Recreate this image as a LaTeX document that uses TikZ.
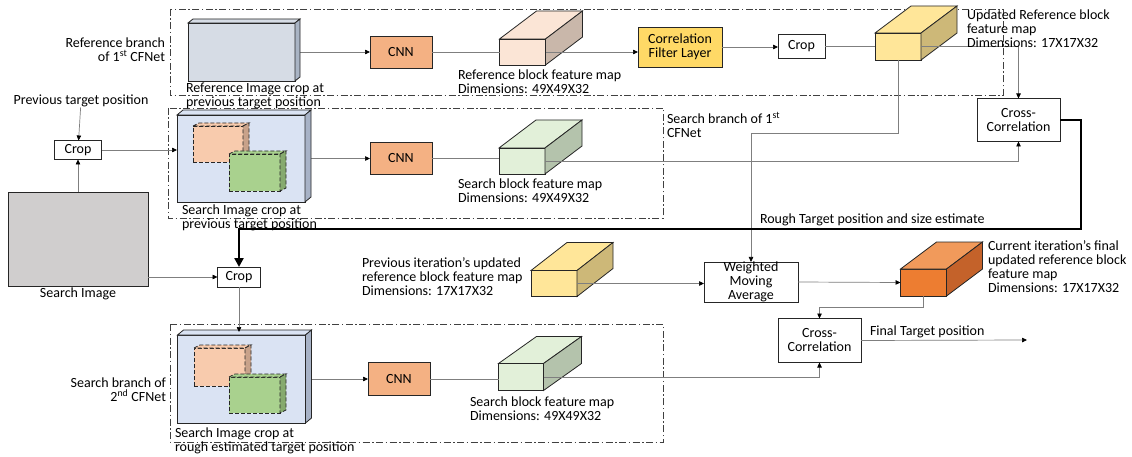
\documentclass[tikz,border=0pt]{standalone}
\usepackage{fontspec}
\setmainfont{Carlito}
\usetikzlibrary{arrows.meta,calc}

\definecolor{edgec}{HTML}{262626}
\definecolor{linec}{HTML}{7F7F7F}
\definecolor{regc}{HTML}{404040}
\definecolor{refimgc}{HTML}{D6DCE5}
\definecolor{refimgs}{HTML}{A9B4C4}
\definecolor{srcimgc}{HTML}{DAE3F3}
\definecolor{srcimgs}{HTML}{A7B2C6}
\definecolor{orgc}{HTML}{F8CBAD}
\definecolor{orgs}{HTML}{C8A28A}
\definecolor{grnc}{HTML}{A9D18E}
\definecolor{grns}{HTML}{86AA6E}
\definecolor{cnnc}{HTML}{F4B183}
\definecolor{rfmc}{HTML}{FBE5D6}
\definecolor{rfms}{HTML}{C9B7AA}
\definecolor{sfmc}{HTML}{E2F0D9}
\definecolor{sfms}{HTML}{B4C3AC}
\definecolor{ylwc}{HTML}{FFE699}
\definecolor{ylws}{HTML}{CDB878}
\definecolor{cflc}{HTML}{FFD966}
\definecolor{cfmc}{HTML}{ED7D31}
\definecolor{cfmt}{HTML}{F19A5B}
\definecolor{cfms}{HTML}{C4622A}
\definecolor{simgc}{HTML}{D0CECE}

\tikzset{
  edge/.style={draw=edgec, line width=0.8pt},
  box/.style={edge, rectangle, inner sep=0pt, outer sep=0pt, align=center},
  conn/.style={draw=linec, line width=0.7pt},
  arr/.style={conn, -{Triangle[length=5pt,width=4.5pt,color=black]}},
  lbl/.style={inner sep=0pt, outer sep=0pt, align=left, anchor=north west},
  region/.style={draw=regc, line width=0.9pt, dash pattern=on 7pt off 2.5pt on 1.5pt off 2.5pt},
  inner/.style={box, dash pattern=on 4pt off 2pt}
}

% top and right faces of a block drawn from its front node
\newcommand{\faces}[6][]{%
  \filldraw[edge,#1,fill=#5] (#2.north west) -- ++(#3,-#4) -- ($(#2.north east)+(#3,-#4)$) -- (#2.north east) -- cycle;
  \filldraw[edge,#1,fill=#6] (#2.north east) -- ++(#3,-#4) -- ($(#2.south east)+(#3,-#4)$) -- (#2.south east) -- cycle;}

\begin{document}
\begin{tikzpicture}[x=1pt, y=-1pt, font=\fontsize{14}{14}\selectfont]
  \useasboundingbox[fill=white] (0,0) rectangle (1132,457);

  \draw[region] (170,9) rectangle (1003,95);
  \draw[region] (168,108) rectangle (663,218);
  \draw[region] (170,324) rectangle (663,442);

  \node[box, fill=simgc, minimum width=140, minimum height=94] (simg) at (78,239) {};
  \node[box, minimum width=47, minimum height=19] (crop1) at (78,150) {Crop};
  \node[box, minimum width=43, minimum height=20] (crop2) at (239,277) {Crop};

  \node[box, fill=refimgc, minimum width=107, minimum height=58] (refimg) at (241.5,52) {};
  \node[box, fill=srcimgc, minimum width=128, minimum height=87] (srcimg1) at (241,158.5) {};
  \node[box, fill=srcimgc, minimum width=128, minimum height=88] (srcimg2) at (241.5,379) {};

  \node[box, fill=cnnc, minimum width=62, minimum height=32] (cnnr) at (401,52) {CNN};
  \node[box, fill=cnnc, minimum width=62, minimum height=32] (cnns1) at (401,158) {CNN};
  \node[box, fill=cnnc, minimum width=62, minimum height=33] (cnns2) at (399,379) {CNN};

  \node[box, fill=rfmc, minimum width=46, minimum height=26] (rfm) at (522.5,52) {};
  \node[box, fill=sfmc, minimum width=46, minimum height=26] (sfm1) at (522,161) {};
  \node[box, fill=sfmc, minimum width=45, minimum height=27] (sfm2) at (521,377) {};

  \node[box, fill=cflc, minimum width=84, minimum height=40] (cfl) at (680,47) {Correlation\\Filter Layer};
  \node[box, minimum width=47, minimum height=24] (cropr) at (801.5,46) {Crop};
  \node[box, fill=ylwc, minimum width=46, minimum height=27] (urfm) at (898,46.5) {};
  \node[box, minimum width=83, minimum height=43] (cc1) at (1018.5,120) {Cross-\\Correlation};

  \node[box, fill=ylwc, minimum width=46, minimum height=26] (pfm) at (554,283.5) {};
  \node[box, minimum width=94, minimum height=40] (wma) at (751,282) {Weighted\\Moving\\Average};
  \node[box, fill=cfmc, minimum width=46, minimum height=27] (cfm) at (923.5,282.5) {};
  \node[box, minimum width=83, minimum height=44] (cc2) at (819.5,340.5) {Cross-\\Correlation};
  \coordinate (fin) at (1027,340);
  \coordinate (bend) at (751,133);

  \node[inner sep=0pt, anchor=north] (ptp) at (81,95) {Previous target position};
  \node[inner sep=0pt, anchor=north] (lsimg) at (78,288) {Search Image};

  \draw[arr] (ptp) -- (crop1);
  \draw[arr] (simg) -- (crop1);
  \draw[arr] (crop1.east) -- (crop1.east -| srcimg1.west);
  \draw[arr] (crop2.west -| simg.east) -- (crop2.west);
  \draw[arr] (refimg.east) -- (refimg.east -| cnnr.west);
  \draw[arr] (srcimg1.east) -- (srcimg1.east -| cnns1.west);
  \draw[arr] (srcimg2.east) -- (srcimg2.east -| cnns2.west);

  \faces{refimg}{5}{4}{refimgc}{refimgs}
  \faces{srcimg1}{6}{5}{srcimgc}{srcimgs}
  \faces{srcimg2}{6}{5}{srcimgc}{srcimgs}
  \draw[arr] (crop2.south) -- ($(crop2.south |- srcimg2.north)+(0,-3)$);

  \node[inner, fill=orgc, minimum width=50, minimum height=36] (org1) at (218,144) {};
  \faces[dash pattern=on 4pt off 2pt]{org1}{6}{3}{orgc}{orgs}
  \node[inner, fill=grnc, minimum width=51, minimum height=37] (grn1) at (254.5,172.5) {};
  \faces[dash pattern=on 4pt off 2pt]{grn1}{6}{3}{grnc}{grns}
  \node[inner, fill=orgc, minimum width=51, minimum height=38] (org2) at (219.5,367) {};
  \faces[dash pattern=on 4pt off 2pt]{org2}{6}{3}{orgc}{orgs}
  \node[inner, fill=grnc, minimum width=51, minimum height=36] (grn2) at (254.5,395) {};
  \faces[dash pattern=on 4pt off 2pt]{grn2}{6}{3}{grnc}{grns}

  \faces{rfm}{37}{28}{rfmc}{rfms}
  \faces{sfm1}{37}{28}{sfmc}{sfms}
  \faces{sfm2}{38}{27}{sfmc}{sfms}
  \faces{urfm}{36}{27}{ylwc}{ylws}
  \faces{pfm}{36}{28}{ylwc}{ylws}
  \faces{cfm}{36}{27}{cfmt}{cfms}

  \draw[conn] (cnnr.east) -- (rfm.west);
  \draw[arr] (rfm.east) -- (rfm.east -| cfl.west);
  \draw[arr] (cfl.east) -- (cfl.east -| cropr.west);
  \draw[conn] (cropr.east) -- (cropr.east -| urfm.west);
  \draw[arr] (urfm.east) -| (cc1.north);
  \draw[arr] (urfm.south) |- (bend) -- (wma.north);

  \draw[conn] (cnns1.east) -- (cnns1.east -| sfm1.west);
  \draw[arr] (sfm1.east) -| (cc1.south);
  \draw[conn] (cnns2.east) -- (cnns2.east -| sfm2.west);
  \draw[arr] (sfm2.east) -| (cc2.south);

  \draw[line width=2.6pt, -{Triangle[length=9pt,width=9pt]}] (cc1.east) -| (1081,229) -| (crop2.north);

  \draw[arr] (pfm.east) -- (pfm.east -| wma.west);
  \draw[arr] (wma.east) -- (cfm.west);
  \draw[arr] (cfm.south) -- ++(0,11) -| (cc2.north);
  \draw[arr] (cc2.east) -- (fin);

  \node[lbl, anchor=north east, align=right] (lrb) at (165,38) {Reference branch\\of 1\textsuperscript{st} CFNet};
  \node[lbl] (lrimg) at (186,83) {Reference Image crop at\\previous target position};
  \node[lbl] (lrfm) at (458,70) {Reference block feature map\\Dimensions: 49X49X32};
  \node[lbl] (lurfm) at (967,10) {Updated Reference block\\feature map\\Dimensions: 17X17X32};
  \node[lbl] (lsb1) at (667,112) {Search branch of 1\textsuperscript{st}\\CFNet};
  \node[lbl] (lsimg1) at (182,205) {Search Image crop at\\previous target position};
  \node[lbl] (lsfm1) at (458,179) {Search block feature map\\Dimensions: 49X49X32};
  \node[lbl] (lrough) at (760,214) {Rough Target position and size estimate};
  \node[lbl] (lpfm) at (362,258) {Previous iteration’s updated\\reference block feature map\\Dimensions: 17X17X32};
  \node[lbl] (lcfm) at (988,241) {Current iteration’s final\\updated reference block\\feature map\\Dimensions: 17X17X32};
  \node[lbl] (lfin) at (870,326) {Final Target position};
  \node[lbl, anchor=north east, align=right] (lsb2) at (166,378) {Search branch of\\2\textsuperscript{nd} CFNet};
  \node[lbl] (lsimg2) at (175,428) {Search Image crop at\\rough estimated target position};
  \node[lbl] (lsfm2) at (470,397) {Search block feature map\\Dimensions: 49X49X32};
\end{tikzpicture}
\end{document}
